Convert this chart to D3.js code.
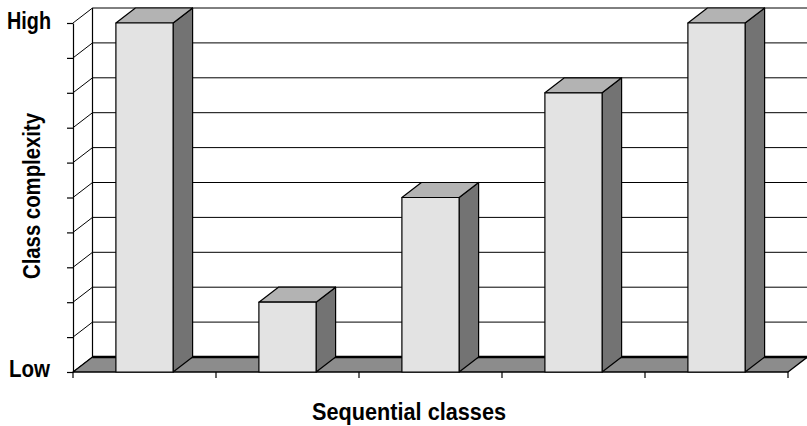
<!DOCTYPE html>
<html lang="en">
<head>
  <meta charset="UTF-8">
  <title>Class complexity of sequential classes</title>
  <script src="https://d3js.org/d3.v7.min.js"></script>
  <style>
    body {
      margin: 0;
      padding: 0;
      background: #fff;
    }
    .label {
      font-family: 'Liberation Sans', Arial, sans-serif;
      font-weight: bold;
      font-size: 23px;
      fill: #000;
    }
  </style>
</head>
<body>
  <div id="chart"></div>
  <script>
    // data (levels 0 = Low .. 10 = High)
    const classes = ["1", "2", "3", "4", "5"];
    const complexity = [10, 2, 5, 8, 10];
    const levels = d3.range(0, 11);
    const levelLabels = ["Low", "High"];
    const xTitle = "Sequential classes";
    const yTitle = "Class complexity";

    const width = 807;
    const height = 426;
    const plot = { left: 73, right: 788, top: 23, bottom: 372 };
    const depth = { dx: 19.5, dy: -15 }; // 3D offset of the back wall

    const frontColor = "#e3e3e3";
    const topColor = "#b3b3b3";
    const sideColor = "#737373";
    const floorColor = "#8c8c8c";

    const svg = d3.select("#chart")
      .append("svg")
      .attr("width", width)
      .attr("height", height);

    const x = d3.scaleBand()
      .domain(classes)
      .range([plot.left, plot.right])
      .paddingInner(0.6)
      .paddingOuter(0.3);

    const y = d3.scaleLinear()
      .domain([0, 10])
      .range([plot.bottom, plot.top]);

    const line = d3.line();

    // back wall
    const backG = svg.append("g");
    backG.append("rect")
      .attr("x", plot.left + depth.dx)
      .attr("y", y(10) + depth.dy)
      .attr("width", width - plot.left - depth.dx + 5)
      .attr("height", y(0) - y(10))
      .attr("fill", "#fff");

    backG.selectAll(".grid")
      .data(levels)
      .enter()
      .append("line")
      .attr("class", "grid")
      .attr("x1", plot.left + depth.dx)
      .attr("x2", plot.right + depth.dx)
      .attr("y1", d => y(d) + depth.dy)
      .attr("y2", d => y(d) + depth.dy)
      .attr("stroke", "#000")
      .attr("stroke-width", 1);

    // left side wall
    backG.selectAll(".diag")
      .data(levels)
      .enter()
      .append("line")
      .attr("class", "diag")
      .attr("x1", plot.left)
      .attr("x2", plot.left + depth.dx)
      .attr("y1", d => y(d))
      .attr("y2", d => y(d) + depth.dy)
      .attr("stroke", "#000")
      .attr("stroke-width", 1);

    backG.append("line")
      .attr("x1", plot.left + depth.dx)
      .attr("x2", plot.left + depth.dx)
      .attr("y1", y(10) + depth.dy)
      .attr("y2", y(0) + depth.dy)
      .attr("stroke", "#000")
      .attr("stroke-width", 1.2);

    // floor
    const x0 = plot.left, x1 = plot.right, yb = y(0);
    svg.append("path")
      .attr("d", line([[x0, yb], [x1, yb], [x1 + depth.dx, yb + depth.dy], [x0 + depth.dx, yb + depth.dy]]) + "Z")
      .attr("fill", floorColor)
      .attr("stroke", "#000")
      .attr("stroke-width", 1.3)
      .attr("stroke-linejoin", "round");

    svg.append("line")
      .attr("x1", x0 + depth.dx)
      .attr("x2", x1 + depth.dx)
      .attr("y1", yb + depth.dy)
      .attr("y2", yb + depth.dy)
      .attr("stroke", "#000")
      .attr("stroke-width", 2.6);

    // bars
    const bars = svg.selectAll(".bar")
      .data(complexity.map((v, i) => ({ c: classes[i], v: v })))
      .enter()
      .append("g")
      .attr("class", "bar");

    const barPath = (d, face) => {
      const l = x(d.c), r = x(d.c) + x.bandwidth();
      const t = y(d.v), b = y(0);
      const { dx, dy } = depth;
      let pts;
      if (face === "front") pts = [[l, t], [r, t], [r, b], [l, b]];
      if (face === "top") pts = [[l, t], [r, t], [r + dx, t + dy], [l + dx, t + dy]];
      if (face === "side") pts = [[r, t], [r + dx, t + dy], [r + dx, b + dy], [r, b]];
      return line(pts) + "Z";
    };

    [["side", sideColor], ["top", topColor], ["front", frontColor]].forEach(([face, color]) => {
      bars.append("path")
        .attr("d", d => barPath(d, face))
        .attr("fill", color)
        .attr("stroke", "#000")
        .attr("stroke-width", 1.2)
        .attr("stroke-linejoin", "round");
    });

    // front y axis
    svg.append("g")
      .attr("transform", `translate(${plot.left},0)`)
      .call(d3.axisLeft(y).tickValues(levels).tickSize(6).tickSizeOuter(0).tickFormat(""))
      .call(g => g.selectAll("line, path").attr("stroke", "#000").attr("stroke-width", 1.2));

    // x ticks at class boundaries
    const bounds = classes.map((c, i) => plot.left + i * x.step());
    bounds.push(plot.right);
    svg.selectAll(".xtick")
      .data(bounds)
      .enter()
      .append("line")
      .attr("class", "xtick")
      .attr("x1", d => d)
      .attr("x2", d => d)
      .attr("y1", y(0))
      .attr("y2", y(0) + 6)
      .attr("stroke", "#000")
      .attr("stroke-width", 1.2);

    // labels
    svg.append("text")
      .attr("class", "label")
      .attr("x", 51)
      .attr("y", y(10) + 6)
      .attr("text-anchor", "end")
      .attr("textLength", 44)
      .attr("lengthAdjust", "spacingAndGlyphs")
      .text(levelLabels[1]);

    svg.append("text")
      .attr("class", "label")
      .attr("x", 50)
      .attr("y", y(0) + 5)
      .attr("text-anchor", "end")
      .attr("textLength", 41)
      .attr("lengthAdjust", "spacingAndGlyphs")
      .text(levelLabels[0]);

    svg.append("text")
      .attr("class", "label")
      .attr("x", 409)
      .attr("y", 420)
      .attr("text-anchor", "middle")
      .attr("textLength", 194)
      .attr("lengthAdjust", "spacingAndGlyphs")
      .text(xTitle);

    svg.append("text")
      .attr("class", "label")
      .attr("transform", "translate(40,196) rotate(-90)")
      .attr("text-anchor", "middle")
      .attr("textLength", 166)
      .attr("lengthAdjust", "spacingAndGlyphs")
      .text(yTitle);
  </script>
</body>
</html>
